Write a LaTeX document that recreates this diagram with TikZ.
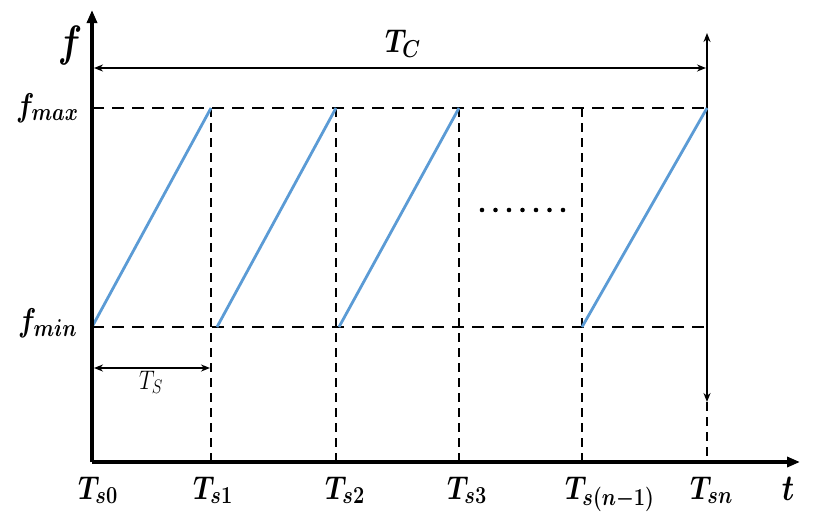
\RequirePackage{fix-cm}
\documentclass[tikz,border=0pt]{standalone}
\usetikzlibrary{arrows.meta}
\definecolor{ramp}{RGB}{91,155,213}
\DeclareMathSizes{27}{27}{20}{14}
\DeclareMathSizes{22}{22}{16}{12}
\begin{document}
\begin{tikzpicture}[x=1pt,y=-1pt,
  axis/.style={line width=3.4pt,-{Triangle[length=13pt,width=10pt]}},
  hdash/.style={line width=2.6pt,dash pattern=on 12pt off 8pt},
  vdash/.style={line width=2.2pt,dash pattern=on 9pt off 6pt},
  ramp/.style={draw=ramp,line width=2.8pt},
  span/.style={line width=1.6pt,{Stealth[length=9pt,width=7pt]}-{Stealth[length=9pt,width=7pt]}},
  lab/.style={font=\fontsize{27}{30}\selectfont\boldmath,inner sep=0pt,yscale=1.22,transform shape},
  tick/.style={lab,anchor=base west}]
\useasboundingbox (0,0) rectangle (814,515);
% named points
\coordinate (O) at (92,462);
\coordinate (Ytop) at (92,10);
\coordinate (Xend) at (800,462);
\foreach \n/\x in {0/92,1/211,2/336,3/459,4/582,5/707}{
  \coordinate (B\n) at (\x,462);
  \coordinate (H\n) at (\x,108);
  \coordinate (L\n) at (\x,327);
}
\coordinate (Lb) at (217,327);
\coordinate (Lc) at (339,327);
% dashed guides
\draw[hdash] (H0) -- (H5);
\draw[hdash] (L0) -- (L5);
\foreach \n in {1,2,3,4}{\draw[vdash] (H\n) -- (B\n);}
\coordinate (Ctop) at (707,33);
\coordinate (Cbot) at (707,402);
\draw[vdash] (Cbot) -- (B5);
\draw[span] (Cbot) -- (Ctop);
% ramps
\draw[ramp] (L0) -- (H1);
\draw[ramp] (Lb) -- (H2);
\draw[ramp] (Lc) -- (H3);
\draw[ramp] (L4) -- (H5);
% axes
\draw[axis] (O) -- (Ytop);
\draw[axis] (O) -- (Xend);
% spans
\coordinate (TcL) at (94,68);
\coordinate (TcR) at (706,68);
\draw[span] (TcL) -- (TcR);
\coordinate (TsL) at (94,368);
\coordinate (TsR) at (210,368);
\draw[span] (TsL) -- (TsR);
\node[lab,anchor=base west] (tc) at (385,52) {$T_C$};
\node[font=\fontsize{22}{24}\selectfont,inner sep=0pt,anchor=base west,yscale=1.22,transform shape] (ts) at (139,389) {$T_S$};
% dots
\foreach \i in {0,...,6}{\fill (482+13.5*\i,210) circle (2.3pt);}
% axis labels
\node[lab,font=\fontsize{36}{40}\selectfont\boldmath] (f) at (70,46) {$f$};
\node[lab,font=\fontsize{30}{34}\selectfont\boldmath] (t) at (788,489) {$t$};
\node[lab,anchor=base west] (fmax) at (16,116) {$f_{max}$};
\node[lab,anchor=base west] (fmin) at (18,331) {$f_{min}$};
% ticks
\node[tick] (t0) at (78,499) {$T_{s0}$};
\node[tick] (t1) at (193,499) {$T_{s1}$};
\node[tick] (t2) at (325,499) {$T_{s2}$};
\node[tick] (t3) at (447,499) {$T_{s3}$};
\node[tick] (t4) at (565,499) {$T_{s(n-1)}$};
\node[tick] (t5) at (690,499) {$T_{sn}$};
\end{tikzpicture}
\end{document}
